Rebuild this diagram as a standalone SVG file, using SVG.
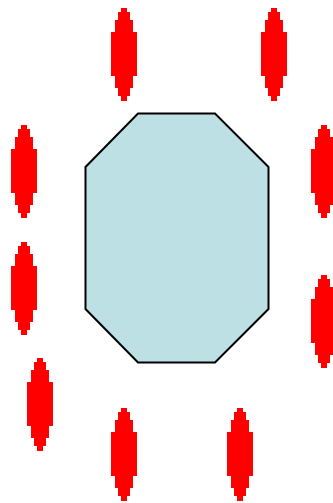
<svg xmlns="http://www.w3.org/2000/svg" xmlns:xlink="http://www.w3.org/1999/xlink" width="333" height="503" viewBox="0 0 333 503">
<style>
.blob{fill:#ff0000;shape-rendering:crispEdges}
.oct{fill:#bce0e4;stroke:#000;stroke-width:2;stroke-linejoin:miter}
</style>
<defs>
<path id="e" d="M-3,0 H3 V4 H6 V12 H9 V24 H13 V68 H9 V80 H6 V88 H3 V93 H-3 V88 H-6 V80 H-9 V68 H-13 V24 H-9 V12 H-6 V4 H-3 Z"/>
</defs>
<rect width="333" height="503" fill="#fff"/>
<g id="octagon">
<polygon class="oct" points="138,113.5 215,113.5 268.5,167 268.5,309 215,362.5 138,362.5 85.5,309 85.5,167"/>
</g>
<g id="blob1"><use class="blob" xlink:href="#e" x="124" y="8"/></g>
<g id="blob2"><use class="blob" xlink:href="#e" x="274" y="8"/></g>
<g id="blob3"><use class="blob" xlink:href="#e" x="24" y="125"/></g>
<g id="blob4"><use class="blob" xlink:href="#e" x="24" y="242"/></g>
<g id="blob5"><use class="blob" xlink:href="#e" x="324" y="125"/></g>
<g id="blob6"><use class="blob" xlink:href="#e" x="324" y="275"/></g>
<g id="blob7"><use class="blob" xlink:href="#e" x="40" y="358"/></g>
<g id="blob8"><use class="blob" xlink:href="#e" x="124" y="408"/></g>
<g id="blob9"><use class="blob" xlink:href="#e" x="240" y="408"/></g>
<g id="connectors"/>
</svg>
